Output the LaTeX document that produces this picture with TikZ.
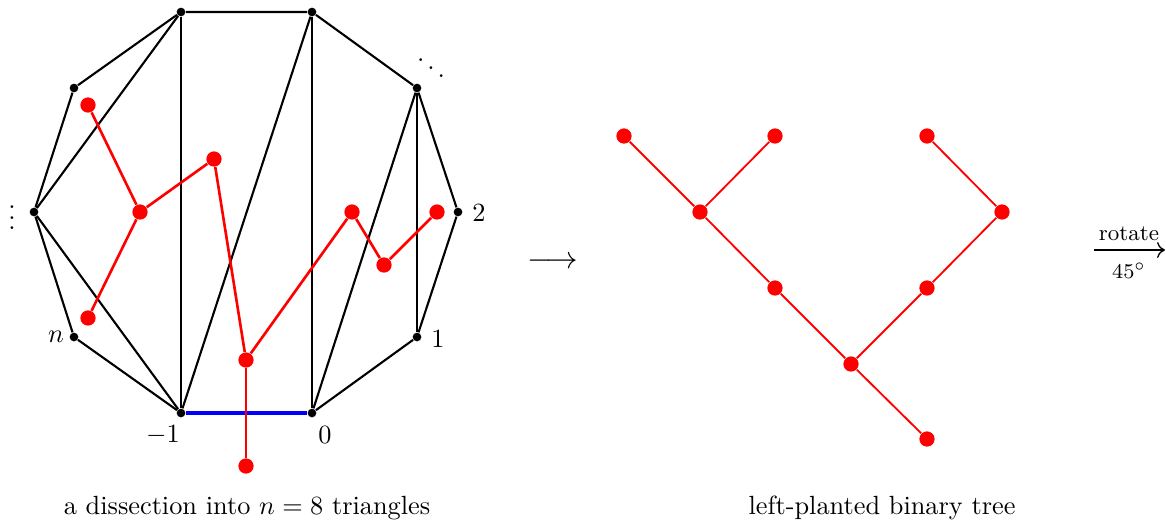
\documentclass[tikz,border=0pt]{standalone}
\usepackage{amsmath}
\usetikzlibrary{arrows.meta}
\begin{document}
\begin{tikzpicture}[x=0.38pt,y=-0.38pt,
  edge/.style={line width=0.8pt,black},
  dual/.style={line width=1pt,red},
  treeedge/.style={line width=0.7pt,red},
  vdot/.style={circle,fill=black,inner sep=0pt,minimum size=3.3pt},
  rdot/.style={circle,fill=red,inner sep=0pt,minimum size=5.8pt},
  small/.style={font=\fontsize{8.5}{10}\selectfont,inner sep=1pt}]
\useasboundingbox (0,0) rectangle (1166,526);
% polygon vertices
\node[vdot] (A) at (181,12) {};
\node[vdot] (B) at (312,12) {};
\node[vdot] (C) at (417,88) {};
\node[vdot] (D) at (458,212) {};
\node[vdot] (E) at (417,337) {};
\node[vdot] (F) at (312,413) {};
\node[vdot] (G) at (181,413) {};
\node[vdot] (H) at (74,337) {};
\node[vdot] (I) at (34,212) {};
\node[vdot] (J) at (74,88) {};
% edges
\draw[edge] (J) -- (A) -- (B) -- (C) -- (D) -- (E) -- (F);
\draw[edge] (G) -- (H) -- (I) -- (J);
\draw[line width=1.3pt,blue] (F) -- (G);
% diagonals
\draw[edge] (I) -- (A);
\draw[edge] (A) -- (G);
\draw[edge] (G) -- (B);
\draw[edge] (B) -- (F);
\draw[edge] (F) -- (C);
\draw[edge] (C) -- (E);
\draw[edge] (I) -- (G);
% labels
\node (l2) at (479,213) {$2$};
\node (l1) at (438,339) {$1$};
\node (l0) at (325,435) {$0$};
\node (lm1) at (163,435) {$-1$};
\node (ln) at (56,337) {$n$};
\node (vd) at (12,210) {$\vdots$};
\node (dd) at (431,60) {$\ddots$};
% dual tree
\node[rdot] (t1) at (88,105) {};
\node[rdot] (t2) at (140,212) {};
\node[rdot] (t3) at (88,318) {};
\node[rdot] (t4) at (214,159) {};
\node[rdot] (t5) at (246,360) {};
\node[rdot] (t6) at (352,212) {};
\node[rdot] (t7) at (384,265) {};
\node[rdot] (t8) at (437,212) {};
\node[rdot] (t0) at (246,466) {};
\draw[dual] (t1) -- (t2) -- (t3);
\draw[dual] (t2) -- (t4) -- (t5) -- (t6) -- (t7) -- (t8);
\draw[dual] (t5) -- (t0);
% arrow
\node (arr) at (553,263) {\large$\longrightarrow$};
% binary tree
\node[rdot] (b1) at (624,136) {};
\node[rdot] (b2) at (775,136) {};
\node[rdot] (b3) at (927,136) {};
\node[rdot] (b4) at (700,212) {};
\node[rdot] (b5) at (1002,212) {};
\node[rdot] (b6) at (775,288) {};
\node[rdot] (b7) at (927,288) {};
\node[rdot] (b8) at (851,364) {};
\node[rdot] (b9) at (927,439) {};
\draw[treeedge] (b1) -- (b4) -- (b2);
\draw[treeedge] (b4) -- (b6) -- (b8) -- (b7) -- (b5) -- (b3);
\draw[treeedge] (b8) -- (b9);
% rotate arrow
\coordinate (r0) at (1094,250);
\coordinate (r1) at (1165,250);
\draw[line width=0.5pt,-{To[length=3pt,width=6pt]}] (r0) -- (r1);
\node[small,anchor=base] (rt) at (1129,240) {rotate};
\node[small,anchor=base] (rd) at (1129,278) {$45^\circ$};
% captions
\node (c1) at (247,508) {a dissection into $n=8$ triangles};
\node (c2) at (882,508) {left-planted binary tree};
\end{tikzpicture}
\end{document}
